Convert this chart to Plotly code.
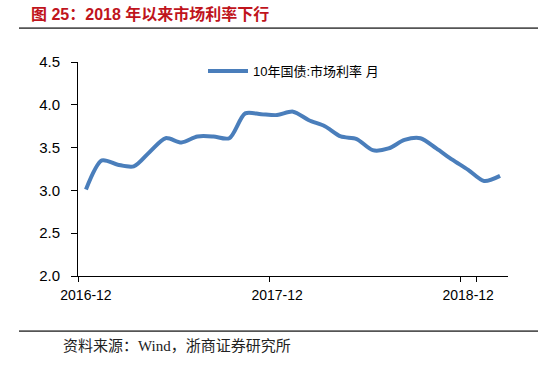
import plotly.graph_objects as go

months = ["2016-12", "2017-01", "2017-02", "2017-03", "2017-04", "2017-05", "2017-06",
          "2017-07", "2017-08", "2017-09", "2017-10", "2017-11", "2017-12", "2018-01",
          "2018-02", "2018-03", "2018-04", "2018-05", "2018-06", "2018-07", "2018-08",
          "2018-09", "2018-10", "2018-11", "2018-12", "2019-01", "2019-02"]
rates = [3.01, 3.35, 3.30, 3.28, 3.45, 3.61, 3.56, 3.63, 3.63, 3.61, 3.90, 3.89, 3.88, 3.92,
         3.82, 3.75, 3.63, 3.60, 3.47, 3.49, 3.59, 3.61, 3.49, 3.36, 3.24, 3.11, 3.17]
tick_labels = ["2016-12", "2017-12", "2018-12"]
y_ticks = [2.0, 2.5, 3.0, 3.5, 4.0, 4.5]
series_name = "10年国债:市场利率 月"
title_text = "图 25：2018 年以来市场利率下行"
source_text = "资料来源：Wind，浙商证券研究所"

W, H = 550, 369
L, R, T, B = 78, 42, 62, 93
pw, ph = W - L - R, H - T - B

def px(x):
    return (x - L) / pw

def py(y):
    return (H - B - y) / ph

fig = go.Figure()
fig.add_trace(go.Scatter(
    x=months, y=rates, mode="lines", name=series_name,
    line=dict(color="#4A7EBB", width=4, shape="spline", smoothing=0.8),
))

fig.update_layout(
    width=W, height=H,
    margin=dict(l=L, r=R, t=T, b=B, autoexpand=False),
    paper_bgcolor="white", plot_bgcolor="white",
    font=dict(family="Liberation Sans, Arial, sans-serif", size=13, color="black"),
    showlegend=True,
    legend=dict(x=px(203), y=py(71), xanchor="left", yanchor="middle",
                font=dict(family="Liberation Sans, Noto Sans CJK SC, sans-serif", size=13),
                bgcolor="rgba(0,0,0,0)", itemwidth=40),
    xaxis=dict(type="category", categoryorder="array", categoryarray=months,
               range=[-0.5, len(months) - 0.5], automargin=False, tickangle=0,
               tickmode="array", tickvals=tick_labels, ticktext=tick_labels,
               tickson="boundaries", ticks="outside", ticklen=5, tickcolor="black",
               showline=True, linecolor="black", linewidth=1, showgrid=False,
               zeroline=False, ticklabelstandoff=6, tickfont=dict(size=14)),
    yaxis=dict(range=[2.0, 4.5], tickmode="array", tickvals=y_ticks, automargin=False,
               ticktext=[f"{v:.1f}" for v in y_ticks],
               ticks="outside", ticklen=6, tickcolor="black",
               showline=True, linecolor="black", linewidth=1, showgrid=False,
               zeroline=False, ticklabelstandoff=8, tickfont=dict(size=15)),
)

fig.add_annotation(text=f"<b>{title_text}</b>", xref="paper", yref="paper",
                   x=px(29), y=py(14), xanchor="left", yanchor="middle", showarrow=False,
                   font=dict(family="Liberation Sans, Noto Sans CJK SC, sans-serif",
                             size=16, color="#C0141C"))
fig.add_annotation(text=source_text, xref="paper", yref="paper",
                   x=px(61), y=py(346), xanchor="left", yanchor="middle", showarrow=False,
                   font=dict(family="Liberation Serif, Noto Sans CJK SC, serif",
                             size=15, color="#222"))
for yy in (28, 331):
    fig.add_shape(type="line", xref="paper", yref="paper", layer="above",
                  x0=px(19), x1=px(538), y0=py(yy), y1=py(yy),
                  line=dict(color="#555555", width=1.5))
    fig.add_annotation(text="", xref="paper", yref="paper", x=px(19), y=py(yy),
                       xanchor="left", yanchor="middle", showarrow=False,
                       width=519, height=1, borderpad=0, borderwidth=0,
                       bgcolor="#555555", font=dict(size=1))

fig.write_html("out.html", config={"displayModeBar": False},
               post_script="document.body.style.margin='0';")
